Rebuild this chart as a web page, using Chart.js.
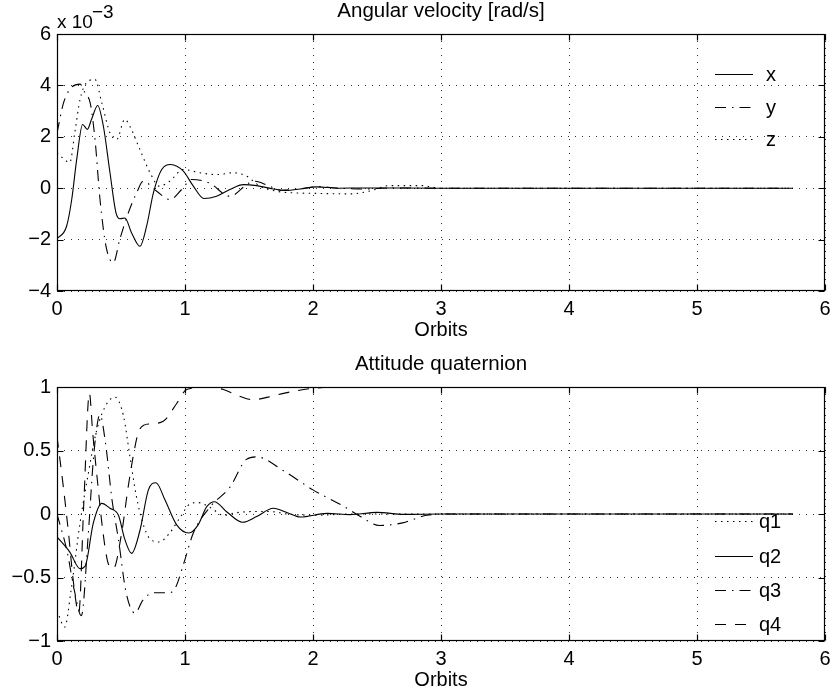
<!DOCTYPE html>
<html><head><meta charset="utf-8">
<script src="https://cdn.jsdelivr.net/npm/chart.js@4/dist/chart.umd.min.js"></script>
<style>
html,body{margin:0;padding:0;background:#fff;}
body{width:833px;height:695px;position:relative;overflow:hidden;font-family:"Liberation Sans",Arial,Helvetica,sans-serif;color:#000;}
canvas{position:absolute;left:0;}
.t{position:absolute;font-size:20.5px;line-height:20.5px;white-space:nowrap;}
.e{position:absolute;font-size:19px;line-height:19px;white-space:nowrap;}
.leg{position:absolute;height:20px;display:flex;align-items:center;font-size:20px;line-height:20px;white-space:nowrap;}
.leg svg{display:block;}
</style></head><body>
<canvas id="c1" width="833" height="345" style="top:0px"></canvas>
<canvas id="c2" width="833" height="350" style="top:345px"></canvas>
<div class="t" style="left:57px;width:768px;text-align:center;top:0px">Angular velocity [rad/s]</div>
<div class="e" style="left:57px;top:12px">x 10</div>
<div class="e" style="left:92px;top:2px">&minus;3</div>
<div class="t" style="left:57px;width:768px;text-align:center;top:353px">Attitude quaternion</div>
<div id="leg1"></div>
<div id="leg2"></div>
<script>
// ---- tick values ----
const xTicks = [0, 1, 2, 3, 4, 5, 6];
const wTicks = [-4, -2, 0, 2, 4, 6];
const qTicks = [-1, -0.5, 0, 0.5, 1];
const xLabel = "Orbits";

// ---- Angular velocity (units of 1e-3 rad/s) ----
const wxX = [0, 0.075, 0.115, 0.154, 0.2, 0.237, 0.27, 0.318, 0.362, 0.414, 0.461, 0.492, 0.531, 0.583, 0.648, 0.7, 0.753, 0.818, 0.888, 0.987, 1.065, 1.148, 1.247, 1.35, 1.456, 1.56, 1.69, 1.79, 1.9, 2.03, 2.2, 2.4, 3.0, 4.0, 5.0, 5.75];
const wxY = [-1.97, -1.48, -0.44, 1.12, 2.48, 2.29, 2.68, 3.22, 2.42, 0.6, -0.96, -1.19, -1.16, -1.74, -2.26, -1.48, -0.18, 0.73, 0.92, 0.66, 0.08, -0.40, -0.31, -0.05, 0.14, 0.10, -0.03, -0.09, -0.03, 0.05, 0.0, 0.01, 0, 0, 0, 0];
const wyX = [0, 0.05, 0.1, 0.18, 0.22, 0.26, 0.297, 0.336, 0.383, 0.44, 0.49, 0.557, 0.622, 0.674, 0.779, 0.883, 0.974, 1.052, 1.19, 1.35, 1.5, 1.55, 1.65, 1.75, 1.9, 2.05, 2.2, 2.4, 2.6, 3.0, 4.0, 5.0, 5.75];
const wyY = [2.15, 3.3, 3.85, 4.05, 3.7, 3.3, 1.9, -0.44, -2.26, -2.9, -2.0, -0.96, -0.18, 0.27, -0.12, -0.44, -0.05, 0.34, 0.2, -0.31, 0.2, 0.27, 0.1, -0.08, -0.02, 0.06, 0.0, -0.03, 0.01, 0, 0, 0, 0];
const wzX = [0, 0.05, 0.1, 0.14, 0.18, 0.23, 0.297, 0.35, 0.414, 0.466, 0.53, 0.57, 0.648, 0.727, 0.80, 0.88, 0.987, 1.117, 1.247, 1.378, 1.48, 1.586, 1.716, 1.846, 2.0, 2.3, 2.45, 2.6, 2.85, 3.0, 4.0, 5.0, 5.75];
const wzY = [1.38, 1.15, 1.0, 2.2, 3.45, 4.1, 4.23, 3.32, 2.15, 1.9, 2.68, 2.4, 1.5, 0.6, 0.08, 0.27, 0.73, 0.6, 0.53, 0.6, 0.47, 0.08, -0.12, -0.18, -0.2, -0.22, -0.1, 0.1, 0.1, 0, 0, 0, 0];

// ---- Attitude quaternion ----
const q1X = [0, 0.06, 0.11, 0.18, 0.245, 0.31, 0.39, 0.453, 0.52, 0.57, 0.62, 0.67, 0.73, 0.8, 0.88, 0.96, 1.04, 1.1, 1.2, 1.3, 1.4, 1.55, 1.66, 1.8, 2.0, 2.3, 3.0, 4.0, 5.0, 5.75];
const q1Y = [-0.76, -0.89, -0.6, -0.07, 0.32, 0.66, 0.87, 0.92, 0.77, 0.45, 0.14, -0.07, -0.2, -0.22, -0.15, -0.03, 0.08, 0.09, 0.05, -0.01, 0.01, 0.02, 0.02, 0.0, -0.01, 0.0, 0, 0, 0, 0];
const q2X = [0, 0.1, 0.18, 0.22, 0.284, 0.35, 0.414, 0.48, 0.53, 0.583, 0.648, 0.714, 0.773, 0.844, 0.935, 1.03, 1.1, 1.17, 1.23, 1.325, 1.45, 1.56, 1.69, 1.8, 1.9, 2.11, 2.29, 2.5, 2.71, 3.0, 4.0, 5.0, 5.75];
const q2Y = [-0.18, -0.30, -0.43, -0.41, -0.07, 0.084, 0.045, -0.01, -0.2, -0.31, -0.13, 0.19, 0.246, 0.11, -0.086, -0.15, -0.09, 0.058, 0.097, 0.018, -0.065, -0.02, 0.045, 0.01, -0.024, 0.005, -0.005, 0.013, -0.003, 0, 0, 0, 0];
const q3X = [0, 0.08, 0.135, 0.19, 0.245, 0.284, 0.32, 0.336, 0.38, 0.43, 0.48, 0.54, 0.61, 0.67, 0.75, 0.88, 0.93, 0.99, 1.065, 1.2, 1.35, 1.48, 1.56, 1.77, 2.0, 2.24, 2.37, 2.52, 2.7, 2.89, 3.1, 4.0, 5.0, 5.75];
const q3Y = [0.0, -0.3, -0.6, -0.8, -0.15, 0.43, 0.74, 0.78, 0.55, 0.11, -0.2, -0.62, -0.78, -0.68, -0.62, -0.62, -0.57, -0.39, -0.15, 0.06, 0.21, 0.43, 0.45, 0.34, 0.19, 0.06, -0.02, -0.09, -0.07, -0.01, 0, 0, 0, 0];
const q4X = [0, 0.05, 0.09, 0.13, 0.17, 0.21, 0.253, 0.279, 0.31, 0.36, 0.4, 0.44, 0.505, 0.557, 0.6, 0.635, 0.68, 0.727, 0.83, 0.935, 1.013, 1.17, 1.3, 1.42, 1.53, 1.65, 1.77, 2.0, 2.3, 3.0, 4.0, 5.0, 5.75];
const q4Y = [0.61, 0.21, -0.15, -0.55, -0.78, 0.1, 0.95, 0.64, 0.32, -0.15, -0.39, -0.43, -0.15, 0.22, 0.48, 0.64, 0.70, 0.71, 0.73, 0.87, 0.98, 1.0, 0.98, 0.93, 0.9, 0.92, 0.95, 0.99, 1.0, 1.0, 1.0, 1.0, 1.0];

const FONT = '"Liberation Sans", Arial, Helvetica, sans-serif';
const FSIZE = 20;
const DOT = [1.5, 4.5], DASHDOT = [11, 6, 1.5, 6], DASH = [11, 9], SOLID = [];

function pts(xs, ys) { return xs.map((x, i) => ({ x: x, y: ys[i] })); }
function fmt(v) { return String(v).replace('-', '\u2212'); }
function ds(label, xs, ys, dash) {
  return { label: label, data: pts(xs, ys), borderColor: '#000', borderWidth: 1.1, borderDash: dash,
           pointRadius: 0, fill: false, cubicInterpolationMode: 'monotone' };
}

const framePlugin = {
  id: 'frame',
  afterDatasetsDraw(chart) {
    const { ctx, chartArea: a, scales } = chart;
    ctx.save();
    ctx.setLineDash([]);
    ctx.strokeStyle = '#000';
    ctx.lineWidth = 1.2;
    const L = Math.round(a.left) + 0.5, R = Math.round(a.right) - 0.5;
    const T = Math.round(a.top) + 0.5, B = Math.round(a.bottom) - 0.5;
    ctx.strokeRect(L, T, R - L, B - T);
    ctx.beginPath();
    scales.x.ticks.forEach(t => {
      const p = Math.round(scales.x.getPixelForValue(t.value)) + 0.5;
      ctx.moveTo(p, B); ctx.lineTo(p, B - 6);
      ctx.moveTo(p, T); ctx.lineTo(p, T + 6);
    });
    scales.y.ticks.forEach(t => {
      const p = Math.round(scales.y.getPixelForValue(t.value)) + 0.5;
      ctx.moveTo(L, p); ctx.lineTo(L + 6, p);
      ctx.moveTo(R, p); ctx.lineTo(R - 6, p);
    });
    ctx.stroke();
    ctx.restore();
  }
};

function makeChart(id, datasets, yTicks, padTop, xHeight) {
  return new Chart(document.getElementById(id), {
    type: 'line',
    data: { datasets: datasets },
    plugins: [framePlugin],
    options: {
      responsive: false, animation: false, devicePixelRatio: 1,
      layout: { padding: { top: padTop, left: 0, right: 8, bottom: 0 } },
      plugins: { legend: { display: false }, tooltip: { enabled: false }, title: { display: false } },
      scales: {
        x: {
          type: 'linear', min: xTicks[0], max: xTicks[xTicks.length - 1],
          afterBuildTicks: s => { s.ticks = xTicks.map(v => ({ value: v })); },
          afterFit: s => { s.height = xHeight; s.paddingLeft = 0; s.paddingRight = 0; },
          ticks: { autoSkip: false, maxRotation: 0, padding: 6, color: '#000',
                   font: { family: FONT, size: FSIZE }, callback: v => fmt(v) },
          grid: { color: 'rgba(0,0,0,0.8)', lineWidth: 1, drawTicks: false, borderDash: [1, 6] },
          border: { display: false, dash: [1, 6] },
          title: { display: true, text: xLabel, color: '#000', font: { family: FONT, size: FSIZE },
                   padding: { top: 0, bottom: 3 } }
        },
        y: {
          type: 'linear', min: yTicks[0], max: yTicks[yTicks.length - 1],
          afterBuildTicks: s => { s.ticks = yTicks.map(v => ({ value: v })); },
          afterFit: s => { s.width = 57; s.paddingTop = 0; s.paddingBottom = 0; },
          ticks: { autoSkip: false, padding: 6, color: '#000',
                   font: { family: FONT, size: FSIZE }, callback: v => fmt(v) },
          grid: { color: 'rgba(0,0,0,0.8)', lineWidth: 1, drawTicks: false, borderDash: [1, 6] },
          border: { display: false, dash: [1, 6] }
        }
      }
    }
  });
}

const ds1 = [ds('x', wxX, wxY, SOLID), ds('y', wyX, wyY, DASHDOT), ds('z', wzX, wzY, DOT)];
const ds2 = [ds('q1', q1X, q1Y, DOT), ds('q2', q2X, q2Y, SOLID), ds('q3', q3X, q3Y, DASHDOT), ds('q4', q4X, q4Y, DASH)];
makeChart('c1', ds1, wTicks, 34, 54);
makeChart('c2', ds2, qTicks, 42, 54);

function legend(elId, sets, rowY, textLeft) {
  const host = document.getElementById(elId);
  sets.forEach((d, i) => {
    const row = document.createElement('div');
    row.className = 'leg';
    row.style.left = '715px';
    row.style.top = (rowY[i] - 10) + 'px';
    const gap = textLeft - 715 - 38;
    row.innerHTML = '<svg width="38" height="20"><line x1="0" y1="10.5" x2="38" y2="10.5" stroke="#000" stroke-width="1.1" stroke-dasharray="' +
      (d.borderDash.length ? d.borderDash.join(' ') : 'none') + '"/></svg><span style="margin-left:' + gap + 'px">' + d.label + '</span>';
    host.appendChild(row);
  });
}
legend('leg1', ds1, [74, 107, 139], 766);
legend('leg2', ds2, [521, 556, 590, 624], 759);
</script>
</body></html>
